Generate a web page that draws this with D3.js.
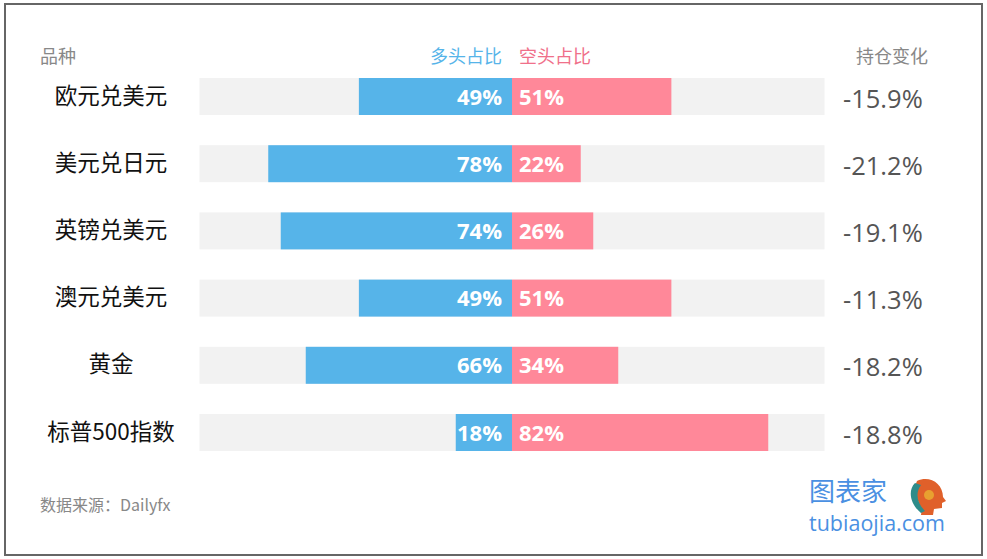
<!DOCTYPE html>
<html><head><meta charset="utf-8">
<script src="https://cdn.jsdelivr.net/npm/d3@7/dist/d3.min.js"></script>
<style>body{margin:0;background:#fff;}svg{display:block;}</style>
</head><body>
<script>
const categories = ["欧元兑美元","美元兑日元","英镑兑美元","澳元兑美元","黄金","标普500指数"];
const longPct = [49,78,74,49,66,18];
const shortPct = [51,22,26,51,34,82];
const changes = ["-15.9%","-21.2%","-19.1%","-11.3%","-18.2%","-18.8%"];
const headers = {cat:"品种", long:"多头占比", short:"空头占比", change:"持仓变化"};
const source = "数据来源：Dailyfx";

const W=987,H=559;
const svg=d3.select("body").append("svg").attr("width",W).attr("height",H);
const font="'Microsoft YaHei','Noto Sans CJK SC','Noto Sans',sans-serif";
const latin="'Open Sans','Noto Sans',sans-serif";
svg.append("rect").attr("x",5).attr("y",4).attr("width",977).attr("height",551)
  .attr("fill","#fff").attr("stroke","#666").attr("stroke-width",2);

const x=d3.scaleLinear().domain([-100,100]).range([199.5,824.5]);
const y=d3.scalePoint().domain(categories).range([78,78+67.2*5]);
const bh=37;

const blue="#56B4E9", pink="#FF8899";

svg.append("text").attr("x",40).attr("y",63).text(headers.cat).attr("fill","#888").attr("font-size",18).attr("font-family",font);
svg.append("text").attr("x",x(0)-10).attr("y",63).attr("text-anchor","end").text(headers.long).attr("fill",blue).attr("font-size",18).attr("font-family",font);
svg.append("text").attr("x",x(0)+7).attr("y",63).text(headers.short).attr("fill","#F0708A").attr("font-size",18).attr("font-family",font);
svg.append("text").attr("x",928).attr("y",63).attr("text-anchor","end").text(headers.change).attr("fill","#888").attr("font-size",18).attr("font-family",font);

const g=svg.selectAll("g.row").data(categories).join("g").attr("class","row")
  .attr("transform",d=>`translate(0,${y(d)})`);
g.append("rect").attr("x",x(-100)).attr("width",x(100)-x(-100)).attr("height",bh).attr("fill","#F2F2F2");
g.append("rect").attr("x",(d,i)=>x(-longPct[i])).attr("width",(d,i)=>x(0)-x(-longPct[i])).attr("height",bh).attr("fill",blue);
g.append("rect").attr("x",x(0)).attr("width",(d,i)=>x(shortPct[i])-x(0)).attr("height",bh).attr("fill",pink);
g.append("text").attr("x",x(0)-10).attr("y",bh/2+8).attr("text-anchor","end").text((d,i)=>longPct[i]+"%")
  .attr("fill","#fff").attr("font-weight","bold").attr("font-size",22).attr("font-family",latin);
g.append("text").attr("x",x(0)+7).attr("y",bh/2+8).text((d,i)=>shortPct[i]+"%")
  .attr("fill","#fff").attr("font-weight","bold").attr("font-size",22).attr("font-family",latin);
g.append("text").attr("x",111).attr("y",bh/2+7).attr("text-anchor","middle").text(d=>d)
  .attr("fill","#111").attr("font-size",22.5).attr("font-family",font);
g.append("text").attr("x",843).attr("y",bh/2+11).text((d,i)=>changes[i])
  .attr("fill","#555").attr("font-size",25.5).attr("font-family",latin);

svg.append("text").attr("x",40).attr("y",511).text(source).attr("fill","#888").attr("font-size",16).attr("font-family",font);

// logo
svg.append("text").attr("x",809).attr("y",501).text("图表家").attr("fill","#4A90E2").attr("font-size",26).attr("font-family",font);
svg.append("text").attr("x",809).attr("y",531).text("tubiaojia.com").attr("fill","#4A90E2").attr("font-size",21.5).attr("font-family",latin);
const lg=svg.append("g").attr("transform","translate(925,495)");
lg.append("path").attr("d","M-8,-14 C4,-20 18,-12 18,2 L21,6 L17,8 L17,13 L9,14 L8,20 L-4,20 C-2,10 -14,0 -8,-14 Z").attr("fill","#E0602A");
lg.append("path").attr("d","M-10,-12 C-18,-4 -14,10 -4,18 L0,16 C-8,8 -10,-2 -4,-10 Z").attr("fill","#2E8C8A");
lg.append("circle").attr("cx",4).attr("cy",0).attr("r",5).attr("fill","#E8A030");
</script>
</body></html>
